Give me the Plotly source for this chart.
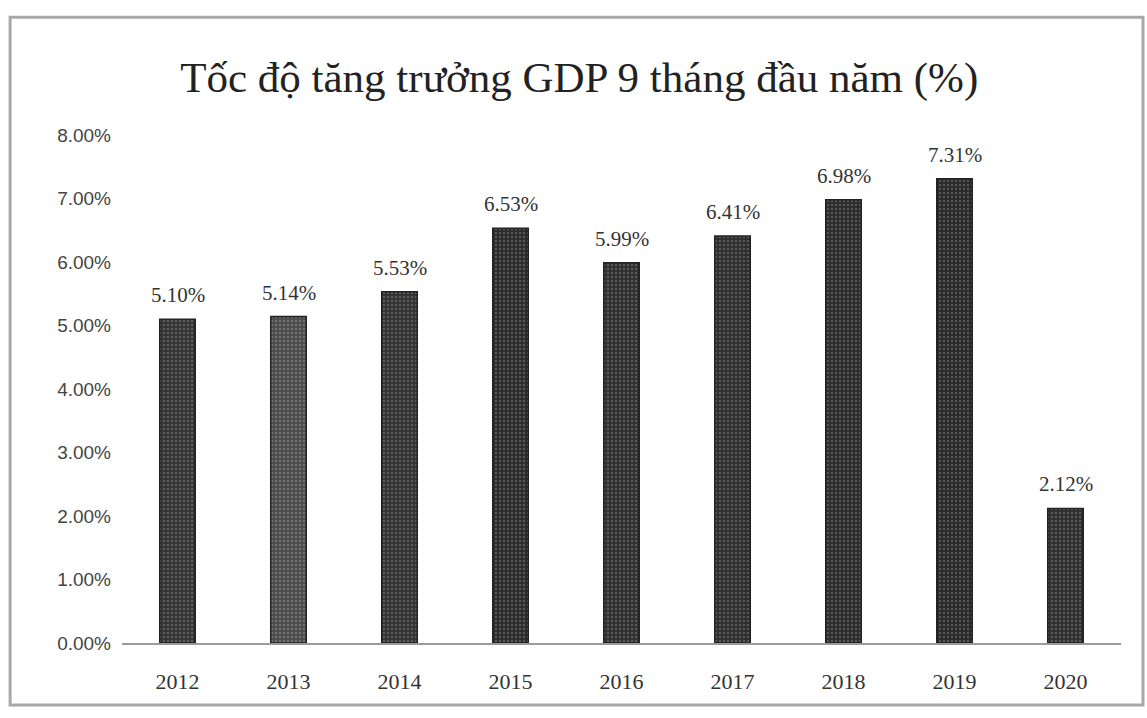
import plotly.graph_objects as go

years = ["2012", "2013", "2014", "2015", "2016", "2017", "2018", "2019", "2020"]
growth = [0.0510, 0.0514, 0.0553, 0.0653, 0.0599, 0.0641, 0.0698, 0.0731, 0.0212]
labels = ["5.10%", "5.14%", "5.53%", "6.53%", "5.99%", "6.41%", "6.98%", "7.31%", "2.12%"]
y_ticks = [0, 0.01, 0.02, 0.03, 0.04, 0.05, 0.06, 0.07, 0.08]

bar_colors = ["#363636", "#4e4e4e", "#343434", "#2e2e2e", "#323232", "#303030", "#2e2e2e", "#2c2c2c", "#313131"]

fig = go.Figure()
fig.add_trace(go.Bar(
    x=years, y=growth,
    marker=dict(color=bar_colors, line=dict(color="#222222", width=1.5),
                pattern=dict(shape=".", fgcolor="#5e5e5e", size=4, solidity=0.12)),
    width=0.32,
    hoverinfo="skip",
))

for i, (v, t) in enumerate(zip(growth, labels)):
    fig.add_annotation(x=i, y=v, text=t, showarrow=False, yanchor="bottom",
                       yshift=10, font=dict(family="Liberation Serif", size=21, color="#333333"))

fig.update_layout(
    width=1147, height=718,
    margin=dict(l=122, r=26, t=135, b=75),
    paper_bgcolor="white", plot_bgcolor="white",
    showlegend=False,
    title=dict(text="Tốc độ tăng trưởng GDP 9 tháng đầu năm (%)", x=0.505, xanchor="center",
               y=0.893, yanchor="middle",
               font=dict(family="Liberation Serif", size=43, color="#222222")),
    xaxis=dict(type="category", range=[-0.5, len(years) - 0.5], showgrid=False, showline=True,
               linecolor="#9a9a9a", linewidth=1.5,
               ticks="", tickfont=dict(family="Liberation Serif", size=22, color="#333333"),
               ticklabelstandoff=18),
    yaxis=dict(range=[0, 0.08], tickvals=y_ticks, tickformat=".2%", showgrid=False,
               showline=False, zeroline=False, ticks="",
               tickfont=dict(family="Liberation Sans", size=19, color="#444444"),
               ticklabelstandoff=10),
    shapes=[dict(type="rect", xref="paper", yref="paper", x0=-0.112, x1=1.022, y0=-0.122, y1=1.232,
                 line=dict(color="#a8a8a8", width=3))],
)

fig.write_html("out.html")
